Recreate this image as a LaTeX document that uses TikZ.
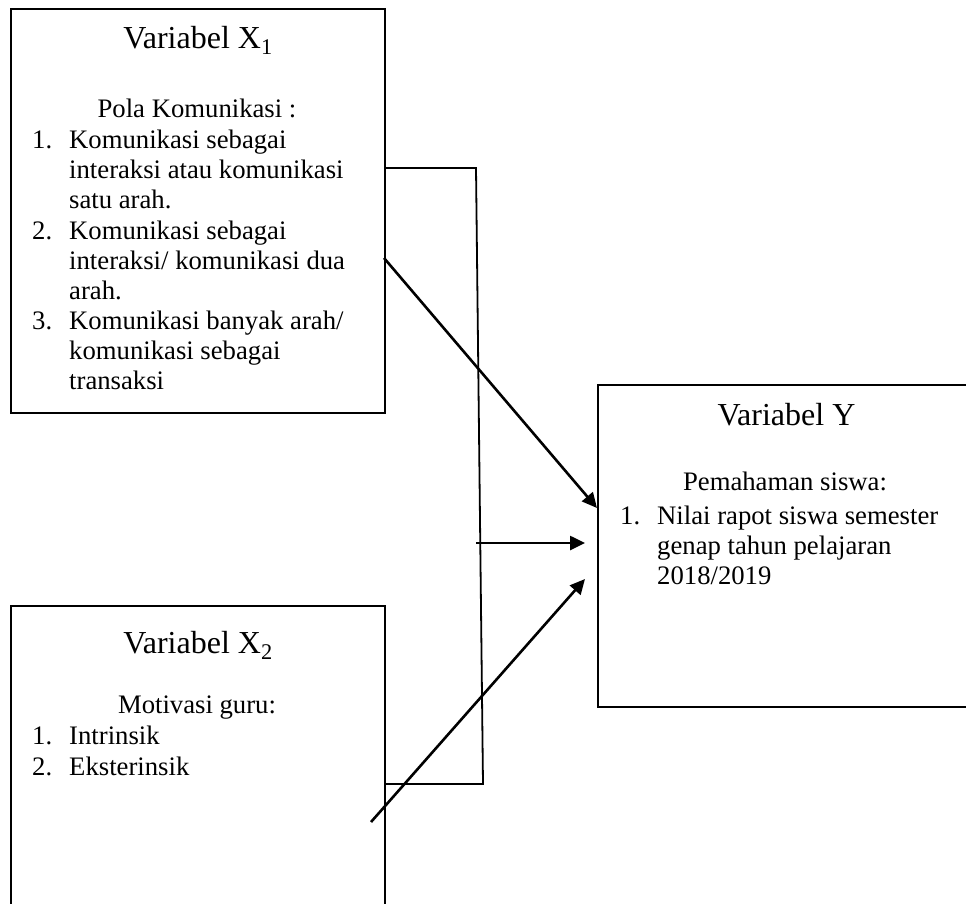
\documentclass[tikz,border=0pt]{standalone}
\usepackage{fontspec}
\setmainfont{Liberation Serif}
\usetikzlibrary{arrows.meta}
\begin{document}
\begin{tikzpicture}[x=1pt,y=-1pt,
  box/.style={draw,line width=2pt,inner sep=0pt},
  body/.style={inner sep=0pt,anchor=base west,font=\fontsize{26.7}{30.2}\selectfont},
  ctr/.style={inner sep=0pt,anchor=base,font=\fontsize{26.7}{30.2}\selectfont},
  ttl/.style={inner sep=0pt,anchor=base,font=\fontsize{32}{36}\selectfont},
  link/.style={line width=1.8pt},
  arr/.style={line width=2.6pt,-{Triangle[length=15pt,width=14pt]}}]
\useasboundingbox (0,0) rectangle (966,903);
\clip (0,0) rectangle (966,903);
% boxes
\node[box,minimum width=374pt,minimum height=404pt] (x1) at (198,211) {};
\node[box,minimum width=374pt,minimum height=324pt] (x2) at (198,768) {};
\node[box,minimum width=377pt,minimum height=322pt] (y) at (786.5,546) {};
% X1 text
\node[ttl] (x1t) at (198,48) {Variabel X\textsubscript{1}};
\node[ctr] (x1h) at (197,117) {Pola Komunikasi :};
\node[body] (x1n1) at (32,148.3) {1.};
\node[body] (x1i1) at (69,148.3) {\begin{tabular}[t]{@{}l@{}}Komunikasi sebagai\\interaksi atau komunikasi\\satu arah.\end{tabular}};
\node[body] (x1n2) at (32,239) {2.};
\node[body] (x1i2) at (69,239) {\begin{tabular}[t]{@{}l@{}}Komunikasi sebagai\\interaksi/ komunikasi dua\\arah.\end{tabular}};
\node[body] (x1n3) at (32,329.5) {3.};
\node[body] (x1i3) at (69,329.5) {\begin{tabular}[t]{@{}l@{}}Komunikasi banyak arah/\\komunikasi sebagai\\transaksi\end{tabular}};
% X2 text
\node[ttl] (x2t) at (198,653) {Variabel X\textsubscript{2}};
\node[ctr] (x2h) at (197,713) {Motivasi guru:};
\node[body] (x2n1) at (32,744) {1.};
\node[body] (x2i1) at (69,744) {Intrinsik};
\node[body] (x2n2) at (32,775) {2.};
\node[body] (x2i2) at (69,775) {Eksterinsik};
% Y text
\node[ttl] (yt) at (786.5,425) {Variabel Y};
\node[ctr] (yh) at (785,490) {Pemahaman siswa:};
\node[body] (yn1) at (620,524) {1.};
\node[body] (yi1) at (657,524) {\begin{tabular}[t]{@{}l@{}}Nilai rapot siswa semester\\genap tahun pelajaran\\2018/2019\end{tabular}};
% connectors
\coordinate (b1) at (476,168);
\coordinate (b2) at (483,784);
\draw[link] (x1.east |- b1) -- (b1) -- (b2) -- (x2.east |- b2);
\coordinate (a1s) at (384,258);
\coordinate (a1e) at (597,508);
\draw[arr] (a1s) -- (a1e);
\coordinate (a2s) at (476,543);
\coordinate (a2e) at (585,543);
\draw[arr] (a2s) -- (a2e);
\coordinate (a3s) at (371,822);
\coordinate (a3e) at (585,579);
\draw[arr] (a3s) -- (a3e);
\end{tikzpicture}
\end{document}
